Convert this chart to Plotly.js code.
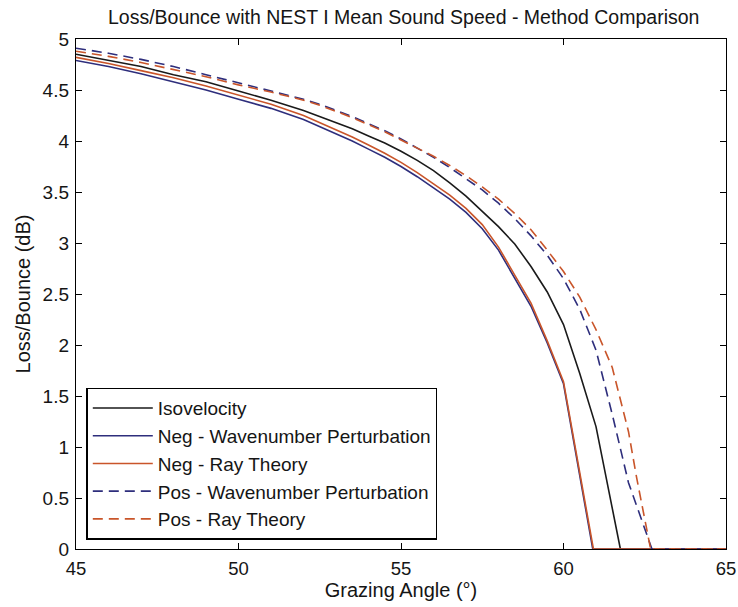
<!DOCTYPE html>
<html>
<head>
<meta charset="utf-8">
<script src="https://cdn.plot.ly/plotly-3.0.1.min.js"></script>
<style>html,body{margin:0;padding:0;background:#fff;}#chart{width:738px;height:607px;}</style>
</head>
<body>
<div id="chart"></div>
<script>
// Grazing angles (deg) and loss/bounce (dB) for each method
const isoX = [45,46,47,48,49,50,51,52,52.5,53,53.5,54,54.5,55,55.5,56,56.5,57,57.5,58,58.5,59,59.5,60,60.5,61,61.75,63,65];
const isoY = [4.85,4.79,4.73,4.65,4.58,4.49,4.40,4.30,4.24,4.18,4.12,4.05,3.98,3.90,3.81,3.71,3.59,3.46,3.31,3.16,2.99,2.77,2.52,2.20,1.72,1.20,0,0,0];

const negWaveX = [45,46,47,48,49,50,51,52,52.5,53,53.5,54,54.5,55,55.5,56,56.5,57,57.5,58,58.5,59,59.5,60,60.9,62,65];
const negWaveY = [4.79,4.73,4.66,4.58,4.50,4.41,4.32,4.21,4.14,4.07,4.00,3.92,3.84,3.75,3.65,3.54,3.43,3.30,3.14,2.93,2.66,2.38,2.02,1.62,0,0,0];

const negRayX = [45,46,47,48,49,50,51,52,52.5,53,53.5,54,54.5,55,55.5,56,56.5,57,57.5,58,58.5,59,59.5,60,60.92,62,65];
const negRayY = [4.82,4.76,4.69,4.62,4.54,4.45,4.36,4.25,4.18,4.11,4.04,3.96,3.88,3.79,3.69,3.58,3.47,3.34,3.18,2.96,2.69,2.41,2.04,1.64,0,0,0];

const posWaveX = [45,46,47,48,49,50,51,52,52.5,53,53.5,54,54.5,55,55.5,56,56.5,57,57.5,58,58.5,59,59.5,60,60.5,61,61.5,62,62.72,65];
const posWaveY = [4.91,4.86,4.80,4.73,4.65,4.57,4.49,4.41,4.36,4.30,4.24,4.17,4.10,4.02,3.93,3.84,3.74,3.63,3.52,3.39,3.24,3.07,2.88,2.65,2.35,1.95,1.32,0.65,0,0];

const posRayX = [45,46,47,48,49,50,51,52,52.5,53,53.5,54,54.5,55,55.5,56,56.5,57,57.5,58,58.5,59,59.5,60,60.5,61,61.5,62,62.25,62.68,65];
const posRayY = [4.88,4.83,4.77,4.70,4.63,4.55,4.48,4.40,4.35,4.29,4.23,4.16,4.09,4.01,3.93,3.85,3.76,3.66,3.55,3.43,3.29,3.13,2.93,2.72,2.47,2.15,1.78,1.15,0.70,0,0];

const seriesNames = ['Isovelocity','Neg - Wavenumber Perturbation','Neg - Ray Theory','Pos - Wavenumber Perturbation','Pos - Ray Theory'];
const xTicks = [45,50,55,60,65];
const yTicks = [0,0.5,1,1.5,2,2.5,3,3.5,4,4.5,5];
const yTickText = ['0','0.5','1','1.5','2','2.5','3','3.5','4','4.5','5'];

const NAVY = '#2e2e7c', ORANGE = '#c9552a', BLACK = '#1a1a1a';
const mk = (x, y, name, color, dash) => ({
  x, y, name, type: 'scatter', mode: 'lines',
  line: {color, width: 1.6, dash}
});

const traces = [
  mk(isoX, isoY, seriesNames[0], BLACK, 'solid'),
  mk(negWaveX, negWaveY, seriesNames[1], NAVY, 'solid'),
  mk(negRayX, negRayY, seriesNames[2], ORANGE, 'solid'),
  mk(posWaveX, posWaveY, seriesNames[3], NAVY, '10px,6px'),
  mk(posRayX, posRayY, seriesNames[4], ORANGE, '10px,6px')
];

const FONT = 'Liberation Sans, Arial, sans-serif';
const TXT = '#151515';
const layout = {
  width: 738, height: 607,
  margin: {l: 76, r: 12, t: 39, b: 58},
  paper_bgcolor: '#ffffff', plot_bgcolor: '#ffffff',
  font: {family: FONT, size: 19, color: TXT},
  title: {text: 'Loss/Bounce with NEST I Mean Sound Speed - Method Comparison',
          font: {family: FONT, size: 19.5, color: TXT}, x: 0.547, xanchor: 'center', y: 0.972, yanchor: 'middle'},
  xaxis: {
    range: [45, 65], tickvals: xTicks, ticktext: xTicks.map(String),
    ticks: 'inside', ticklen: 6, tickwidth: 1, tickcolor: '#000',
    showline: true, linecolor: '#000', linewidth: 1.2, mirror: 'ticks',
    showgrid: false, zeroline: false, ticklabelstandoff: 3,
    tickfont: {family: FONT, size: 18.5, color: TXT},
    title: {text: 'Grazing Angle (°)', font: {family: FONT, size: 20, color: TXT}, standoff: 4}
  },
  yaxis: {
    range: [0, 5], tickvals: yTicks, ticktext: yTickText,
    ticks: 'inside', ticklen: 6, tickwidth: 1, tickcolor: '#000',
    showline: true, linecolor: '#000', linewidth: 1.2, mirror: 'ticks',
    showgrid: false, zeroline: false, ticklabelstandoff: 2,
    tickfont: {family: FONT, size: 19, color: TXT},
    title: {text: 'Loss/Bounce (dB)', font: {family: FONT, size: 20, color: TXT}, standoff: 6}
  },
  legend: {
    x: 0.016, y: 0.018, xanchor: 'left', yanchor: 'bottom',
    bgcolor: '#ffffff', bordercolor: '#000', borderwidth: 1.4,
    font: {family: FONT, size: 19, color: TXT},
    itemwidth: 60
  },
  showlegend: true
};

Plotly.newPlot('chart', traces, layout, {staticPlot: true, displayModeBar: false});
</script>
</body>
</html>
